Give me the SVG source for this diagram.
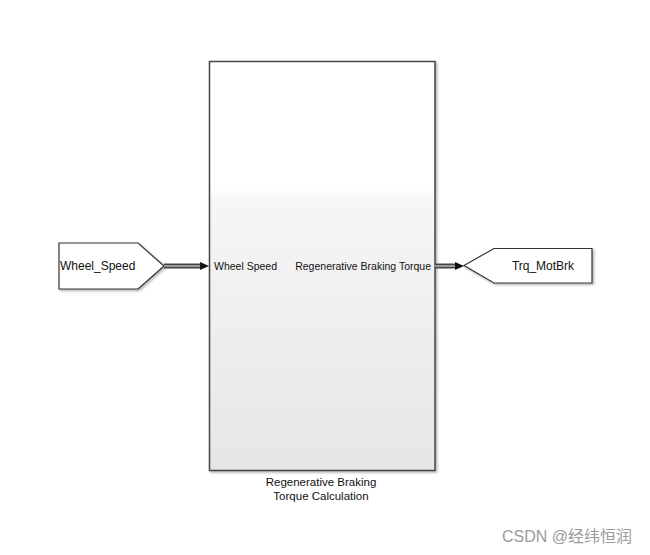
<svg xmlns="http://www.w3.org/2000/svg" width="650" height="555" viewBox="0 0 650 555">
<style>
.port{fill:#fff;stroke:#333;stroke-width:1.2;filter:url(#sh)}
.lbl{font-family:"Liberation Sans",Arial,sans-serif;font-size:10.5px;fill:#111}
.blbl{font-family:"Liberation Sans",Arial,sans-serif;font-size:11.5px;fill:#111}
.plbl{font-family:"Liberation Sans",Arial,sans-serif;font-size:12px;fill:#111}
.wireo{stroke:#444;stroke-width:5;fill:none}
.wirei{stroke:#9a9a9a;stroke-width:2;fill:none}
.ah{fill:#111}
.wm{font-family:"Liberation Sans","Noto Sans CJK SC",sans-serif;font-size:16px;fill:#9a9a9a}
</style>
<defs>
<linearGradient id="g" x1="0" y1="0" x2="0" y2="1">
<stop offset="0" stop-color="#ffffff"/>
<stop offset="0.31" stop-color="#ffffff"/>
<stop offset="0.34" stop-color="#f6f6f6"/>
<stop offset="1" stop-color="#e6e6e6"/>
</linearGradient>
<filter id="sh" x="-10%" y="-10%" width="120%" height="120%">
<feDropShadow dx="1.5" dy="1.5" stdDeviation="1" flood-color="#000" flood-opacity="0.3"/>
</filter>
</defs>
<rect width="650" height="555" fill="#fff"/>
<g id="block">
<rect x="209.5" y="61.5" width="225.5" height="409" fill="url(#g)" stroke="#444" stroke-width="1.5" filter="url(#sh)"/>
<text class="lbl" x="214" y="270">Wheel Speed</text>
<text class="lbl" x="431" y="270" text-anchor="end">Regenerative Braking Torque</text>
<text class="blbl" x="321" y="486" text-anchor="middle">Regenerative Braking</text>
<text class="blbl" x="321" y="500" text-anchor="middle">Torque Calculation</text>
</g>
<g id="in_port">
<polygon class="port" points="59,243 138,243 164,266 138,289 59,289"/>
<text class="plbl" x="60" y="270">Wheel_Speed</text>
</g>
<g id="out_port">
<polygon class="port" points="464,265.5 494,248.5 592,248.5 592,283 494,283"/>
<text class="plbl" x="543" y="270" text-anchor="middle">Trq_MotBrk</text>
</g>
<g id="connectors">
<line class="wireo" x1="164" y1="266" x2="201" y2="266"/>
<line class="wirei" x1="164" y1="266" x2="201" y2="266"/>
<polygon class="ah" points="200,262 209,266 200,270"/>
<line class="wireo" x1="435" y1="266" x2="456" y2="266"/>
<line class="wirei" x1="435" y1="266" x2="456" y2="266"/>
<polygon class="ah" points="455,262 464,266 455,270"/>
</g>
<text class="wm" x="502" y="542">CSDN @经纬恒润</text>
</svg>
